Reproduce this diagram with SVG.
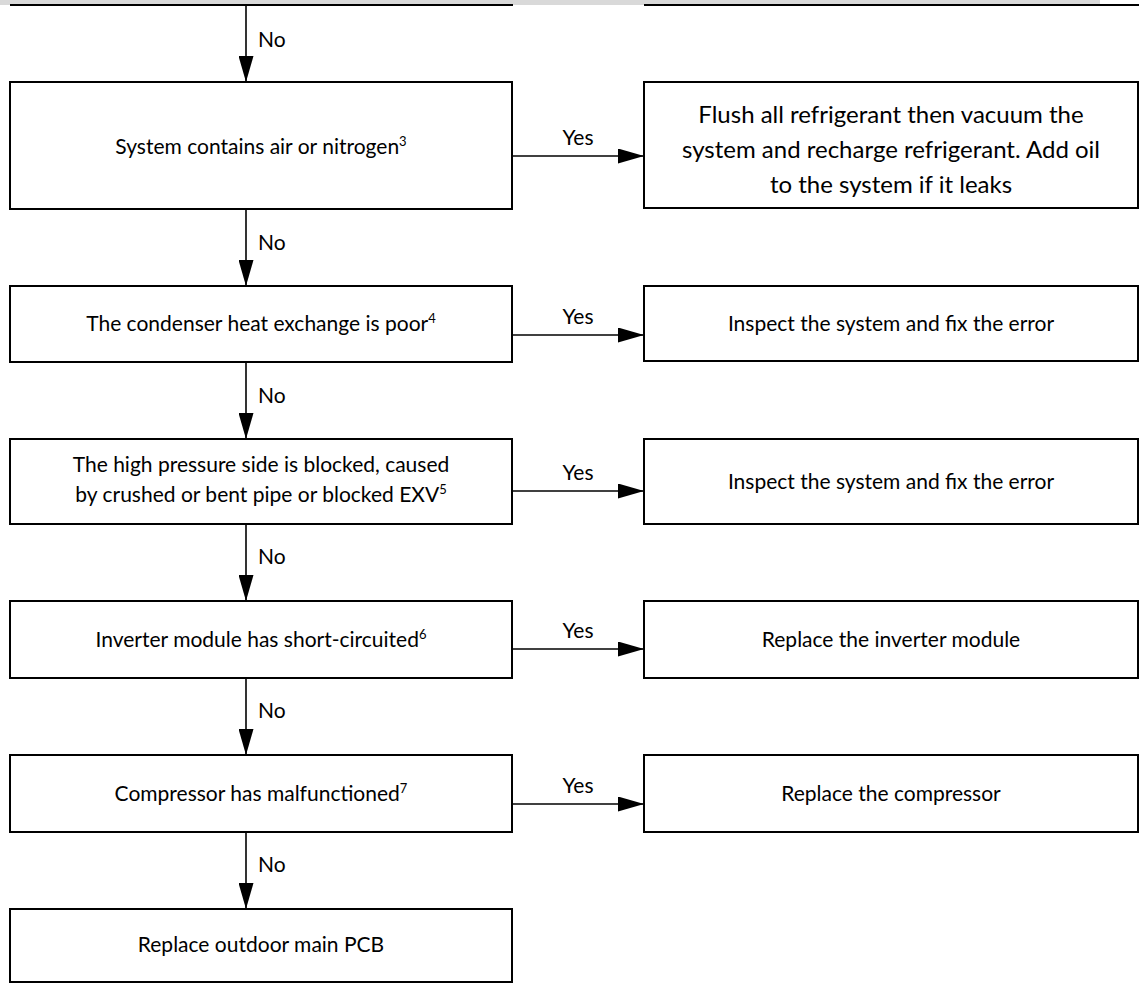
<svg xmlns="http://www.w3.org/2000/svg" width="1139" height="984" viewBox="0 0 1139 984">
<defs>
<marker id="ah" markerWidth="26" markerHeight="15" refX="26" refY="7.5" orient="auto" markerUnits="userSpaceOnUse">
<path d="M0,0 L26,7.5 L0,15 Z" fill="#000"/>
</marker>
<style>
.box{fill:#fff;stroke:#000;stroke-width:2}
.t{font-family:Lato,"Liberation Sans",sans-serif;font-size:21px;fill:#000;text-anchor:middle}
.big{font-size:24px}
.lbl{font-family:Lato,"Liberation Sans",sans-serif;font-size:21px;fill:#000}
.c{stroke:#000;stroke-width:1.6;fill:none;marker-end:url(#ah)}
.sup{font-size:13px}
</style>
</defs>
<rect x="0" y="0" width="1100" height="5" fill="#d9d9d9"/>
<line x1="10" y1="5" x2="513" y2="5" stroke="#000" stroke-width="2"/>
<line x1="644" y1="5" x2="1139" y2="5" stroke="#000" stroke-width="2"/>

<g id="connectors">
<line class="c" x1="246" y1="6" x2="246" y2="82"/>
<line class="c" x1="246" y1="209" x2="246" y2="286"/>
<line class="c" x1="246" y1="362" x2="246" y2="439"/>
<line class="c" x1="246" y1="524" x2="246" y2="601"/>
<line class="c" x1="246" y1="678" x2="246" y2="755"/>
<line class="c" x1="246" y1="832" x2="246" y2="909"/>
<line class="c" x1="512" y1="156" x2="644" y2="156"/>
<line class="c" x1="512" y1="335" x2="644" y2="335"/>
<line class="c" x1="512" y1="491" x2="644" y2="491"/>
<line class="c" x1="512" y1="649" x2="644" y2="649"/>
<line class="c" x1="512" y1="804" x2="644" y2="804"/>
<text class="lbl" x="258" y="47">No</text>
<text class="lbl" x="258" y="250">No</text>
<text class="lbl" x="258" y="403">No</text>
<text class="lbl" x="258" y="564">No</text>
<text class="lbl" x="258" y="718">No</text>
<text class="lbl" x="258" y="872">No</text>
<text class="t" x="578" y="145">Yes</text>
<text class="t" x="578" y="324">Yes</text>
<text class="t" x="578" y="480">Yes</text>
<text class="t" x="578" y="638">Yes</text>
<text class="t" x="578" y="793">Yes</text>
</g>

<g id="n1">
<rect class="box" x="10" y="82" width="502" height="127"/>
<text class="t" x="261" y="154">System contains air or nitrogen<tspan class="sup" dy="-8">3</tspan></text>
</g>
<g id="n1y">
<rect class="box" x="644" y="82" width="494" height="126"/>
<text class="t big" x="891" y="123">Flush all refrigerant then vacuum the</text>
<text class="t big" x="891" y="158">system and recharge refrigerant. Add oil</text>
<text class="t big" x="891" y="193">to the system if it leaks</text>
</g>
<g id="n2">
<rect class="box" x="10" y="286" width="502" height="76"/>
<text class="t" x="261" y="331">The condenser heat exchange is poor<tspan class="sup" dy="-8">4</tspan></text>
</g>
<g id="n2y">
<rect class="box" x="644" y="286" width="494" height="75"/>
<text class="t" x="891" y="331">Inspect the system and fix the error</text>
</g>
<g id="n3">
<rect class="box" x="10" y="439" width="502" height="85"/>
<text class="t" x="261" y="472">The high pressure side is blocked, caused</text>
<text class="t" x="261" y="502">by crushed or bent pipe or blocked EXV<tspan class="sup" dy="-8">5</tspan></text>
</g>
<g id="n3y">
<rect class="box" x="644" y="439" width="494" height="85"/>
<text class="t" x="891" y="489">Inspect the system and fix the error</text>
</g>
<g id="n4">
<rect class="box" x="10" y="601" width="502" height="77"/>
<text class="t" x="261" y="647">Inverter module has short-circuited<tspan class="sup" dy="-8">6</tspan></text>
</g>
<g id="n4y">
<rect class="box" x="644" y="601" width="494" height="77"/>
<text class="t" x="891" y="647">Replace the inverter module</text>
</g>
<g id="n5">
<rect class="box" x="10" y="755" width="502" height="77"/>
<text class="t" x="261" y="801">Compressor has malfunctioned<tspan class="sup" dy="-8">7</tspan></text>
</g>
<g id="n5y">
<rect class="box" x="644" y="755" width="494" height="77"/>
<text class="t" x="891" y="801">Replace the compressor</text>
</g>
<g id="n6">
<rect class="box" x="10" y="909" width="502" height="73"/>
<text class="t" x="261" y="952">Replace outdoor main PCB</text>
</g>
</svg>
